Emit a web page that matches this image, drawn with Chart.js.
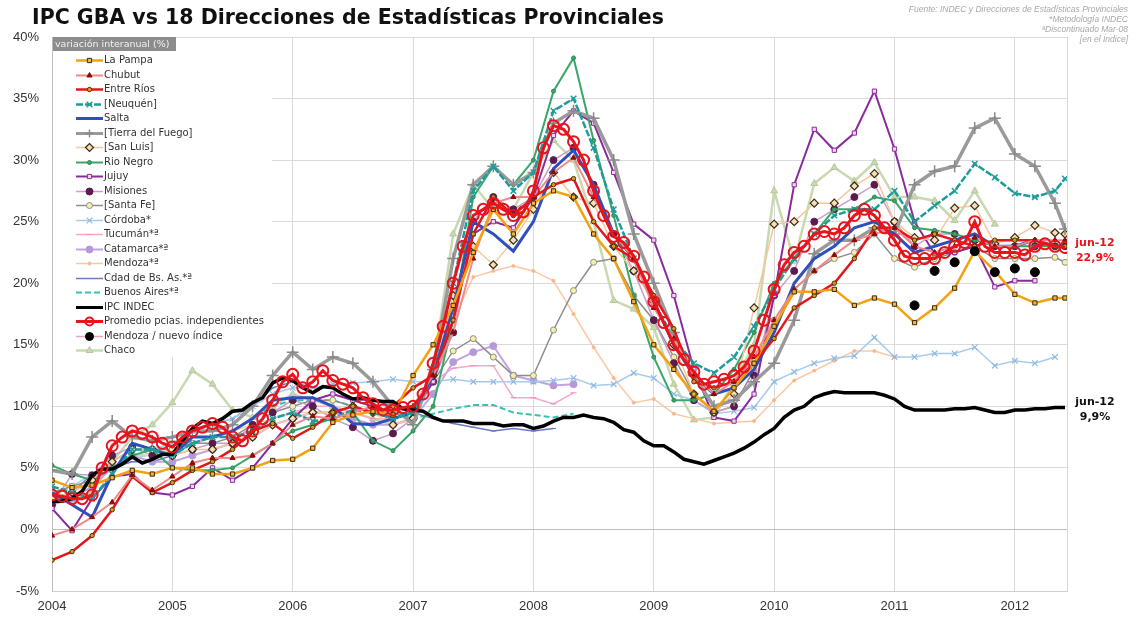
<!DOCTYPE html>
<html lang="es">
<head>
  <meta charset="UTF-8" />
  <title>IPC GBA vs 18 Direcciones de Estadísticas Provinciales</title>
  <script src="https://cdn.jsdelivr.net/npm/chart.js"></script>
  <style>
    body { margin: 0; background: #fff; }
    #wrap { position: relative; width: 1135px; height: 619px; }
    #title { position: absolute; left: 32px; top: 5px; width: 631px; overflow: hidden; white-space: nowrap;
             font: bold 20.5px "DejaVu Sans", sans-serif; color: #111; }
    #notes { position: absolute; right: 7px; top: 4px; text-align: right;
             font: italic 8.5px/10px "Liberation Sans", sans-serif; color: #a8a8a8; }
  </style>
</head>
<body>
<div id="wrap">
  <canvas id="chart" width="1135" height="619"></canvas>
  <div id="title">IPC GBA vs 18 Direcciones de Estadísticas Provinciales</div>
  <div id="notes">Fuente: INDEC y Direcciones de Estadísticas Provinciales<br>*Metodología INDEC<br>ªDiscontinuado Mar-08<br>[en el Índice]</div>
</div>

<script>
  // x axis: months since Jan 2004
  const years = [2004, 2005, 2006, 2007, 2008, 2009, 2010, 2011, 2012];
  const yTickLabels = ['-5%', '0%', '5%', '10%', '15%', '20%', '25%', '30%', '35%', '40%'];

  // most provinces read every 2 months (Jan, Mar, ... May 2012) plus Jun 2012
  const grid2 = [];
  for (let m = 0; m <= 100; m += 2) grid2.push(m);
  grid2.push(101);

  // monthly series (Jan 2004 .. Jun 2012)
  const ipcIndec = [
    2.3, 2.3, 2.5, 3.1, 4.4, 4.9, 4.9, 5.3, 5.9, 5.4, 5.7, 6.1,
    6.1, 7.2, 8.2, 8.8, 8.6, 9.0, 9.6, 9.7, 10.3, 10.7, 11.9, 12.3,
    12.1, 11.5, 11.1, 11.6, 11.5, 11.0, 10.6, 10.7, 10.5, 10.4, 10.4, 9.8,
    9.7, 9.6, 9.1, 8.8, 8.8, 8.8, 8.6, 8.6, 8.6, 8.4, 8.5, 8.5,
    8.2, 8.4, 8.8, 9.1, 9.1, 9.3, 9.1, 9.0, 8.7, 8.1, 7.9, 7.2,
    6.8, 6.8, 6.3, 5.7, 5.5, 5.3, 5.6, 5.9, 6.2, 6.6, 7.1, 7.7,
    8.2, 9.1, 9.7, 10.0, 10.7, 11.0, 11.2, 11.1, 11.1, 11.1, 11.1, 10.9,
    10.6, 10.0, 9.7, 9.7, 9.7, 9.7, 9.8, 9.8, 9.9, 9.7, 9.5, 9.5,
    9.7, 9.7, 9.8, 9.8, 9.9, 9.9
  ];
  const promedio = [
    2.8, 2.7, 2.5, 2.5, 2.8, 5.0, 6.8, 7.5, 8.0, 7.8, 7.5, 7.0,
    6.7, 7.5, 8.0, 8.3, 8.6, 8.3, 7.5, 7.2, 8.0, 9.0, 10.5, 12.0,
    12.6, 11.5, 12.0, 12.9, 12.1, 11.8, 11.5, 10.7, 10.2, 9.7, 9.7, 9.9,
    10.0, 11.0, 13.5, 16.5, 20.0, 23.0, 25.5, 26.0, 26.5, 26.0, 25.5, 25.8,
    27.5, 31.0, 32.8, 32.5, 31.5, 30.0, 27.5, 25.5, 23.8, 23.3, 22.2, 20.5,
    18.5, 16.8, 15.0, 13.8, 12.8, 11.8, 12.0, 12.2, 12.5, 13.2, 14.5, 17.0,
    19.5, 21.5, 22.5, 23.0, 24.0, 24.2, 24.0, 24.5, 25.5, 26.0, 25.5, 24.5,
    23.5, 22.2, 22.0, 22.0, 22.0, 22.5, 23.0, 23.3, 25.0, 23.0, 22.5, 22.5,
    22.5, 22.3, 23.0, 23.2, 23.0, 22.9
  ];

  // bi-monthly series (aligned to grid2)
  const laPampa = [4.0, 3.4, 3.6, 4.2, 4.8, 4.5, 5.0, 5.0, 4.5, 4.5, 5.0, 5.6, 5.7, 6.6, 8.7, 9.3, 9.6, 9.3,
    12.5, 15.0, 18.2, 22.5, 26.0, 24.0, 26.5, 27.5, 27.0, 24.0, 22.0, 18.5, 15.0, 13.0, 11.0, 9.6, 11.5, 13.5,
    16.5, 19.3, 19.3, 19.5, 18.2, 18.8, 18.3, 16.8, 18.0, 19.6, 22.6, 21.0, 19.1, 18.4, 18.8, 18.8];
  const chubut = [-0.5, 0.0, 1.0, 2.2, 4.4, 3.2, 4.3, 5.4, 5.8, 5.8, 6.0, 7.0, 8.5, 9.2, 9.0, 9.5, 10.0, 9.5,
    10.0, 12.5, 16.0, 22.0, 26.5, 27.0, 27.0, 29.0, 30.2, 27.0, 24.0, 22.0, 18.0, 15.5, 12.5, 11.0, 12.0, 14.0,
    17.0, 19.5, 21.0, 22.3, 23.5, 24.0, 24.5, 23.0, 22.5, 23.0, 23.7, 23.0, 23.0, 23.5, 23.5, 23.5];
  const entreRios = [-2.5, -1.8, -0.5, 1.6, 4.3, 3.0, 3.8, 4.8, 5.5, 6.5, 8.0, 8.6, 7.4, 8.3, 9.5, 10.0, 9.5, 10.0,
    11.5, 12.5, 17.0, 24.0, 27.0, 25.5, 27.0, 28.0, 28.5, 25.0, 23.0, 22.0, 19.0, 16.3, 12.0, 11.5, 12.0, 13.5,
    15.5, 18.0, 19.0, 20.0, 22.0, 24.5, 24.5, 23.5, 24.0, 23.5, 23.0, 23.5, 23.5, 23.5, 23.0, 23.0];
  const neuquen = [3.5, 3.0, 2.5, 4.5, 6.5, 6.5, 6.0, 7.0, 7.5, 7.5, 8.0, 9.0, 9.5, 8.8, 9.0, 9.7, 9.5, 9.0,
    9.5, 13.0, 20.0, 27.5, 29.5, 27.5, 29.0, 34.0, 35.0, 31.0, 26.0, 22.0, 18.5, 15.5, 13.5, 12.7, 14.0, 16.5,
    19.5, 22.0, 24.0, 25.5, 26.0, 26.0, 27.5, 25.0, 26.3, 27.5, 29.7, 28.6, 27.3, 27.0, 27.5, 28.5];
  const salta = [3.0, 2.0, 1.0, 4.5, 7.0, 6.5, 6.0, 7.5, 7.5, 8.0, 9.0, 10.5, 10.7, 10.7, 10.0, 8.6, 8.5, 9.0,
    9.5, 12.5, 18.0, 25.0, 24.0, 22.6, 25.0, 29.3, 30.8, 28.0, 24.0, 22.0, 18.5, 15.0, 12.5, 11.0, 11.5, 13.0,
    16.0, 20.0, 22.0, 23.0, 24.5, 25.0, 24.0, 22.5, 23.0, 23.5, 24.0, 23.0, 23.0, 23.5, 23.0, 23.0];
  const tierraDelFuego = [4.8, 4.5, 7.5, 8.8, 7.5, 7.2, 7.5, 8.0, 8.0, 8.5, 10.0, 12.5, 14.4, 13.0, 14.0, 13.5, 12.0, 10.0,
    8.5, 13.0, 22.0, 28.0, 29.5, 28.0, 29.0, 33.0, 34.0, 33.4, 30.0, 24.0, 20.0, 16.0, 12.5, 10.0, 10.5, 12.0,
    13.5, 17.0, 22.4, 23.5, 23.5, 24.5, 24.0, 28.0, 29.1, 29.5, 32.6, 33.4, 30.5, 29.5, 26.5, 24.4];
  const sanLuis = [2.5, 3.0, 4.0, 5.5, 6.5, 6.5, 6.0, 6.5, 6.5, 7.0, 7.5, 8.5, 9.0, 9.5, 9.5, 10.0, 9.5, 8.5,
    9.0, 12.5, 19.0, 23.0, 21.5, 23.5, 26.0, 29.0, 27.0, 26.5, 23.0, 21.0, 18.5, 15.0, 11.0, 9.5, 11.0, 18.0,
    24.8, 25.0, 26.5, 26.5, 27.9, 28.9, 25.0, 23.7, 23.5, 26.1, 26.3, 23.2, 23.7, 24.7, 24.1, 24.0];
  const rioNegro = [5.2, 4.5, 4.0, 5.0, 6.0, 6.5, 5.0, 4.8, 4.8, 5.0, 6.0, 7.0, 8.0, 8.5, 9.0, 9.5, 7.2, 6.4,
    8.0, 10.0, 17.0, 27.0, 29.5, 28.0, 30.0, 35.6, 38.3, 31.6, 25.5, 19.0, 14.0, 10.5, 10.5, 11.0, 13.0, 16.0,
    20.0, 22.0, 24.0, 26.0, 26.0, 27.0, 26.7, 24.5, 24.3, 24.0, 23.5, 23.0, 23.0, 23.0, 23.0, 23.0];
  const jujuy = [1.7, -0.1, 2.5, 4.3, 4.5, 3.0, 2.8, 3.5, 5.0, 4.0, 5.0, 7.0, 9.0, 10.5, 11.0, 10.5, 10.0, 9.0,
    9.5, 12.0, 17.0, 24.0, 25.0, 24.5, 27.0, 32.0, 34.0, 33.0, 29.0, 24.8, 23.5, 19.0, 13.0, 9.1, 8.8, 11.0,
    19.0, 28.0, 32.5, 30.8, 32.2, 35.6, 30.9, 25.0, 22.4, 22.5, 23.0, 19.7, 20.2, 20.2];
  const misiones = [2.0, 4.5, 4.4, 6.0, 6.7, 6.0, 6.0, 6.5, 7.0, 7.0, 8.5, 9.5, 10.5, 10.0, 9.0, 8.3, 7.2, 7.8,
    9.0, 12.0, 16.0, 25.0, 27.0, 26.0, 27.0, 30.0, 31.0, 28.0, 24.0, 21.0, 17.0, 13.5, 10.5, 9.5, 10.0, 12.5,
    19.0, 21.0, 25.0, 26.0, 27.0, 28.0, 25.0, 23.0, 24.0, 24.0, 23.5, 23.0, 23.0, 23.0, 23.0, 23.0];
  const santaFe = [3.0, 3.5, 4.0, 5.5, 6.5, 6.5, 6.5, 7.0, 7.0, 7.5, 8.5, 9.5, 10.0, 10.5, 10.5, 10.0, 9.5, 9.0,
    9.5, 12.0, 14.5, 15.5, 14.0, 12.5, 12.5, 16.2, 19.4, 21.7, 22.0, 19.0, 17.0, 14.0, 11.0, 9.5, 10.0, 13.0,
    17.0, 19.5, 21.0, 22.0, 22.5, 24.0, 22.0, 21.3, 22.0, 22.5, 23.0, 22.0, 22.0, 22.0, 22.1, 21.7];
  const cordoba = [3.0, 3.5, 4.5, 5.5, 6.5, 6.5, 7.0, 8.0, 8.5, 9.0, 10.0, 11.0, 11.5, 11.5, 11.8, 11.9, 12.0, 12.2,
    12.0, 12.0, 12.2, 12.0, 12.0, 12.0, 12.0, 12.1, 12.3, 11.7, 11.8, 12.7, 12.3, 11.0, 10.5, 9.4, 9.6, 9.9,
    12.0, 12.8, 13.5, 13.9, 14.1, 15.6, 14.0, 14.0, 14.3, 14.3, 14.8, 13.3, 13.7, 13.5, 14.0];
  const tucuman = [2.5, 3.0, 4.0, 5.5, 6.5, 6.5, 6.5, 7.0, 7.5, 7.5, 8.0, 9.0, 9.5, 10.0, 10.0, 9.5, 9.0, 9.0,
    9.5, 12.0, 13.1, 13.3, 13.3, 10.7, 10.7, 10.2, 11.1];
  const catamarca = [2.0, 2.5, 3.5, 5.0, 6.0, 5.5, 5.5, 6.0, 6.5, 7.0, 7.5, 8.5, 9.0, 9.5, 9.5, 9.0, 8.5, 8.5,
    9.0, 11.0, 13.6, 14.4, 14.9, 12.5, 12.1, 11.7, 11.8];
  const mendoza = [2.5, 3.0, 4.0, 5.0, 6.0, 6.0, 6.5, 7.0, 7.5, 8.0, 8.5, 9.0, 9.5, 9.5, 9.5, 9.5, 9.0, 9.0,
    9.5, 12.5, 17.0, 20.5, 21.0, 21.4, 21.0, 20.2, 17.5, 14.8, 12.3, 10.3, 10.6, 9.4, 9.0, 8.6, 8.7, 8.8,
    10.5, 12.1, 12.9, 13.7, 14.5, 14.5, 14.0];
  const ciudadBsAs = [2.5, 3.0, 4.5, 5.0, 5.5, 5.5, 6.0, 8.0, 8.5, 9.0, 10.0, 11.5, 12.0, 11.5, 11.5, 10.5, 10.5, 10.0,
    9.5, 9.0, 8.6, 8.3, 8.0, 8.2, 8.0, 8.2];
  const buenosAires = [2.5, 3.0, 4.0, 5.0, 6.0, 6.0, 6.0, 7.0, 7.5, 8.0, 9.0, 10.0, 10.5, 10.5, 10.5, 10.0, 9.5, 9.5,
    9.0, 9.4, 9.8, 10.1, 10.1, 9.5, 9.3, 9.1, 9.4];
  const mendozaNuevo = [18.2, 21.0, 21.7, 22.6, 20.9, 21.2, 20.9];   // from Mar 2011 (grid2 index 43)
  const chaco = [2.5, 2.5, 3.0, 5.5, 7.5, 8.5, 10.3, 12.9, 11.8, 9.7, 9.1, 10.0, 11.0, 10.5, 10.0, 9.5, 9.0, 8.5,
    9.0, 13.0, 24.0, 28.0, 26.0, 26.0, 29.0, 31.6, 30.0, 25.0, 18.6, 17.9, 16.4, 11.8, 8.9, 9.1, 12.0, 15.0,
    27.5, 21.8, 28.1, 29.4, 28.3, 29.8, 27.0, 27.0, 26.7, 25.1, 27.5, 24.8];

  function monthly(vals) { return vals.map((v, i) => ({ x: i, y: v })); }
  function bimonthly(vals, start = 0) { return vals.map((v, i) => ({ x: grid2[start + i], y: v })); }

  function line(label, data, color, width, extra) {
    return Object.assign({
      label: label, data: data, borderColor: color, backgroundColor: color,
      borderWidth: width, pointRadius: 0, pointBorderWidth: 1, tension: 0, order: 5
    }, extra || {});
  }

  const datasets = [
    line('La Pampa', bimonthly(laPampa), '#f5a10f', 2.5, { pointStyle: 'rect', pointRadius: 3, pointBackgroundColor: '#f3b33c', pointBorderColor: '#3d2a05' }),
    line('Chubut', bimonthly(chubut), '#f08a8a', 2, { pointStyle: 'triangle', pointRadius: 3, pointBackgroundColor: '#8b0a0a', pointBorderColor: '#8b0a0a' }),
    line('Entre Ríos', bimonthly(entreRios), '#e3161c', 2.5, { pointStyle: 'circle', pointRadius: 2.2, pointBackgroundColor: '#d39a20', pointBorderColor: '#4a3000' }),
    line('[Neuquén]', bimonthly(neuquen), '#1e9c9c', 2.5, { borderDash: [7, 2], pointStyle: 'crossRot', pointRadius: 4, pointBorderColor: '#1e9c9c', pointBorderWidth: 1.5 }),
    line('Salta', bimonthly(salta), '#2f4fbd', 3),
    line('[Tierra del Fuego]', bimonthly(tierraDelFuego), '#9a9a9a', 3.5, { pointStyle: 'cross', pointRadius: 6, pointBorderColor: '#8a8a8a', pointBorderWidth: 1.5 }),
    line('[San Luis]', bimonthly(sanLuis), '#f7c79a', 1.5, { pointStyle: 'rectRot', pointRadius: 4, pointBackgroundColor: '#f3dfb8', pointBorderColor: '#3a2a10', pointBorderWidth: 1.2 }),
    line('Rio Negro', bimonthly(rioNegro), '#3aa66a', 2, { pointStyle: 'circle', pointRadius: 2, pointBackgroundColor: '#3aa66a', pointBorderColor: '#2d8a55' }),
    line('Jujuy', bimonthly(jujuy), '#892c9a', 2, { pointStyle: 'rect', pointRadius: 3, pointBackgroundColor: '#f6d4f2', pointBorderColor: '#892c9a' }),
    line('Misiones', bimonthly(misiones), '#c79fc8', 1.5, { pointStyle: 'circle', pointRadius: 3.5, pointBackgroundColor: '#5b1b4c', pointBorderColor: '#5b1b4c' }),
    line('[Santa Fe]', bimonthly(santaFe), '#8d8d8d', 1.5, { pointStyle: 'circle', pointRadius: 3, pointBackgroundColor: '#f4f0a6', pointBorderColor: '#8d8d8d' }),
    line('Córdoba*', bimonthly(cordoba), '#a8cbec', 1.5, { pointStyle: 'crossRot', pointRadius: 4, pointBorderColor: '#8fb8e2', pointBorderWidth: 1.2 }),
    line('Tucumán*ª', bimonthly(tucuman), '#f5a8c9', 1.5, { pointStyle: 'line', pointRadius: 3, pointBorderColor: '#f08cb8' }),
    line('Catamarca*ª', bimonthly(catamarca), '#c3a3e3', 2, { pointStyle: 'circle', pointRadius: 3.5, pointBackgroundColor: '#b799d9', pointBorderColor: '#b799d9' }),
    line('Mendoza*ª', bimonthly(mendoza), '#fcc8a4', 1.5, { pointStyle: 'circle', pointRadius: 1.5, pointBackgroundColor: '#f7b88c', pointBorderColor: '#f7b88c' }),
    line('Cdad de Bs. As.*ª', bimonthly(ciudadBsAs), '#6b79c2', 1.5, { pointStyle: 'line', pointRadius: 2.5, pointBorderColor: '#6b79c2' }),
    line('Buenos Aires*ª', bimonthly(buenosAires), '#3cbfb3', 2, { borderDash: [6, 3] }),
    line('IPC INDEC', monthly(ipcIndec), '#000000', 3.5, { order: 1 }),
    line('Promedio pcias. independientes', monthly(promedio), '#e8141c', 3, { order: 0, pointStyle: 'circle', pointRadius: 5.5, pointBackgroundColor: 'rgba(255,255,255,0)', pointBorderColor: '#e8141c', pointBorderWidth: 2 }),
    line('Mendoza / nuevo índice', bimonthly(mendozaNuevo, 43), '#e6a4c4', 0, { order: 2, showLine: false, pointStyle: 'circle', pointRadius: 4.5, pointBackgroundColor: '#000', pointBorderColor: '#000' }),
    line('Chaco', bimonthly(chaco), '#c8d8b0', 2.5, { order: 6, pointStyle: 'triangle', pointRadius: 4, pointBackgroundColor: '#c8d8b0', pointBorderColor: '#b6c99c' })
  ];

  // white legend box inside the plot + right border of the plot area
  const legendBox = {
    id: 'legendBox',
    beforeDatasetsDraw(chart) {
      const a = chart.chartArea, ctx = chart.ctx;
      ctx.save();
      ctx.strokeStyle = '#d9d9d9';
      ctx.lineWidth = 1;
      ctx.beginPath();
      ctx.moveTo(a.right + 0.5, a.top);
      ctx.lineTo(a.right + 0.5, a.bottom);
      ctx.stroke();
      ctx.restore();
    },
    afterDraw(chart) {
      const ctx = chart.ctx, a = chart.chartArea;
      const left = a.left, top = a.top;
      ctx.save();
      ctx.fillStyle = '#fff';
      ctx.fillRect(left + 1, top + 1, 219, 319);
      ctx.fillStyle = '#8c8c8c';
      ctx.fillRect(left + 1, top, 123, 14);
      ctx.fillStyle = '#f2f2f2';
      ctx.font = '9.5px "DejaVu Sans", sans-serif';
      ctx.textBaseline = 'middle';
      ctx.fillText('variación interanual (%)', left + 3, top + 7.5);
      chart.data.datasets.forEach((ds, i) => {
        const y = Math.round(top + 23 + i * 14.5) + 0.5;
        const x0 = 76, x1 = 103, xm = 89.5;
        ctx.save();
        ctx.strokeStyle = ds.borderColor;
        ctx.lineWidth = ds.showLine === false ? 1.5 : Math.min(ds.borderWidth, 3);
        ctx.setLineDash(ds.borderDash || []);
        ctx.beginPath();
        ctx.moveTo(x0, y); ctx.lineTo(x1, y);
        ctx.stroke();
        ctx.restore();
        if (ds.pointRadius > 0) {
          ctx.save();
          ctx.fillStyle = ds.pointBackgroundColor || ds.borderColor;
          ctx.strokeStyle = ds.pointBorderColor || ds.borderColor;
          ctx.lineWidth = ds.pointBorderWidth || 1;
          Chart.helpers.drawPoint(ctx, {
            pointStyle: ds.pointStyle, rotation: 0,
            radius: Math.min(ds.pointRadius, 4), borderWidth: ds.pointBorderWidth || 1
          }, xm, y);
          ctx.restore();
        }
        ctx.fillStyle = '#333';
        ctx.font = '10px "DejaVu Sans", sans-serif';
        ctx.fillText(ds.label, x1 + 1, y);
      });
      ctx.restore();
    }
  };

  // end-of-series labels for jun-12
  const endLabels = {
    id: 'endLabels',
    afterDraw(chart) {
      const ctx = chart.ctx, ys = chart.scales.y;
      const x = chart.chartArea.right + 28;
      ctx.save();
      ctx.font = 'bold 11px "DejaVu Sans", sans-serif';
      ctx.textAlign = 'center';
      ctx.textBaseline = 'middle';
      const pLast = promedio[promedio.length - 1];
      const iLast = ipcIndec[ipcIndec.length - 1];
      ctx.fillStyle = '#e8141c';
      ctx.fillText('jun-12', x, ys.getPixelForValue(pLast) - 4);
      ctx.fillText(pLast.toFixed(1).replace('.', ',') + '%', x, ys.getPixelForValue(pLast) + 11);
      ctx.fillStyle = '#111';
      ctx.fillText('jun-12', x, ys.getPixelForValue(iLast) - 5);
      ctx.fillText(iLast.toFixed(1).replace('.', ',') + '%', x, ys.getPixelForValue(iLast) + 10);
      ctx.restore();
    }
  };

  new Chart(document.getElementById('chart'), {
    type: 'line',
    data: { datasets: datasets },
    options: {
      responsive: false,
      animation: false,
      layout: { padding: { top: 37, right: 68, left: 0, bottom: 0 } },
      plugins: { legend: { display: false }, tooltip: { enabled: false } },
      scales: {
        x: {
          type: 'linear', min: 0, max: 101.2,
          afterBuildTicks: (scale) => { scale.ticks = years.map((y, i) => ({ value: i * 12 })); },
          afterFit: (scale) => { scale.height = 28; },
          grid: { color: '#dadada', drawTicks: false },
          border: { color: '#d0d0d0' },
          ticks: {
            padding: 8, maxRotation: 0, autoSkip: false,
            color: '#333', font: { family: 'Liberation Sans', size: 13 },
            callback: (v) => String(years[Math.round(v / 12)])
          }
        },
        y: {
          min: -5, max: 40,
          afterBuildTicks: (scale) => { scale.ticks = yTickLabels.map((t, i) => ({ value: -5 + i * 5 })); },
          afterFit: (scale) => { scale.width = 52; },
          grid: { color: (c) => c.tick && c.tick.value === 0 ? '#bdbdbd' : '#dadada', drawTicks: false },
          border: { color: '#bdbdbd' },
          ticks: {
            padding: 13, color: '#333', font: { family: 'Liberation Sans', size: 13 },
            callback: (v) => yTickLabels[Math.round((v + 5) / 5)]
          }
        }
      }
    },
    plugins: [legendBox, endLabels]
  });
</script>
</body>
</html>
